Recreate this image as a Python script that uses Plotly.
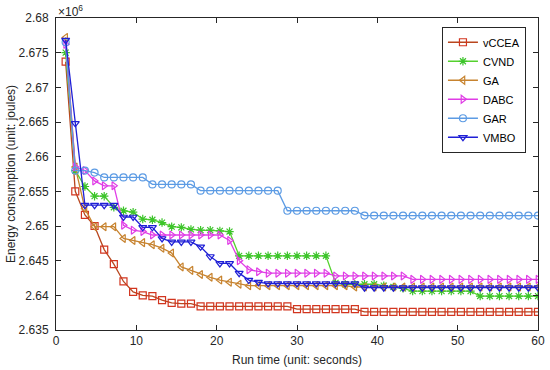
import plotly.graph_objects as go

run_time = [1.2, 2.4, 3.6, 4.8, 6.0, 7.2, 8.4, 9.6, 10.8, 12.0,
            13.2, 14.4, 15.6, 16.8, 18.0, 19.2, 20.4, 21.6, 22.8, 24.0,
            25.2, 26.4, 27.6, 28.8, 30.0, 31.2, 32.4, 33.6, 34.8, 36.0,
            37.2, 38.4, 39.6, 40.8, 42.0, 43.2, 44.4, 45.6, 46.8, 48.0,
            49.2, 50.4, 51.6, 52.8, 54.0, 55.2, 56.4, 57.6, 58.8, 60.0]

# energy in units of 10^6 joules
vccea = [2.6737, 2.6550, 2.6516, 2.6500, 2.6466, 2.6445, 2.6420, 2.6405, 2.6400, 2.6399,
         2.6393, 2.6389, 2.6388, 2.6388, 2.6384, 2.6384, 2.6384, 2.6384, 2.6384, 2.6384,
         2.6384, 2.6384, 2.6384, 2.6384, 2.6380, 2.6380, 2.6380, 2.6380, 2.6380, 2.6380,
         2.6380, 2.6376, 2.6376, 2.6376, 2.6376, 2.6376, 2.6376, 2.6376, 2.6376, 2.6376,
         2.6376, 2.6376, 2.6376, 2.6376, 2.6376, 2.6376, 2.6376, 2.6376, 2.6376, 2.6376]

cvnd = [2.6750, 2.6580, 2.6557, 2.6543, 2.6543, 2.6527, 2.6522, 2.6520, 2.6510, 2.6509,
        2.6505, 2.6499, 2.6498, 2.6495, 2.6494, 2.6494, 2.6493, 2.6492, 2.6457, 2.6457,
        2.6457, 2.6457, 2.6457, 2.6457, 2.6457, 2.6457, 2.6457, 2.6457, 2.6418, 2.6416,
        2.6416, 2.6416, 2.6416, 2.6414, 2.6412, 2.6410, 2.6406, 2.6406, 2.6406, 2.6406,
        2.6406, 2.6406, 2.6406, 2.6399, 2.6399, 2.6399, 2.6399, 2.6399, 2.6399, 2.6399]

ga = [2.6772, 2.6585, 2.6525, 2.6499, 2.6499, 2.6499, 2.6482, 2.6479, 2.6476, 2.6473,
      2.6468, 2.6461, 2.6441, 2.6436, 2.6430, 2.6426, 2.6422, 2.6419, 2.6416, 2.6414,
      2.6414, 2.6414, 2.6414, 2.6414, 2.6414, 2.6414, 2.6414, 2.6414, 2.6414, 2.6414,
      2.6412, 2.6412, 2.6412, 2.6412, 2.6412, 2.6412, 2.6412, 2.6412, 2.6412, 2.6412,
      2.6412, 2.6412, 2.6412, 2.6412, 2.6412, 2.6412, 2.6412, 2.6412, 2.6412, 2.6412]

dabc = [2.6762, 2.6585, 2.6580, 2.6565, 2.6558, 2.6558, 2.6501, 2.6494, 2.6492, 2.6487,
        2.6487, 2.6487, 2.6487, 2.6487, 2.6487, 2.6487, 2.6487, 2.6479, 2.6450, 2.6437,
        2.6434, 2.6432, 2.6432, 2.6432, 2.6432, 2.6432, 2.6432, 2.6432, 2.6428, 2.6428,
        2.6428, 2.6428, 2.6428, 2.6428, 2.6428, 2.6428, 2.6423, 2.6423, 2.6423, 2.6423,
        2.6423, 2.6423, 2.6423, 2.6423, 2.6423, 2.6423, 2.6423, 2.6423, 2.6423, 2.6423]

gar = [2.6765, 2.6580, 2.6580, 2.6577, 2.6570, 2.6570, 2.6570, 2.6570, 2.6570, 2.6560,
       2.6560, 2.6560, 2.6560, 2.6560, 2.6551, 2.6551, 2.6551, 2.6551, 2.6551, 2.6551,
       2.6551, 2.6551, 2.6551, 2.6522, 2.6522, 2.6522, 2.6522, 2.6522, 2.6522, 2.6522,
       2.6522, 2.6515, 2.6515, 2.6515, 2.6515, 2.6515, 2.6515, 2.6515, 2.6515, 2.6515,
       2.6515, 2.6515, 2.6515, 2.6515, 2.6515, 2.6515, 2.6515, 2.6515, 2.6515, 2.6515]

vmbo = [2.6768, 2.6648, 2.6530, 2.6530, 2.6530, 2.6530, 2.6513, 2.6513, 2.6498, 2.6498,
        2.6482, 2.6477, 2.6477, 2.6477, 2.6470, 2.6456, 2.6446, 2.6446, 2.6432, 2.6422,
        2.6419, 2.6417, 2.6417, 2.6417, 2.6417, 2.6417, 2.6417, 2.6417, 2.6417, 2.6417,
        2.6417, 2.6411, 2.6411, 2.6411, 2.6411, 2.6411, 2.6411, 2.6411, 2.6411, 2.6411,
        2.6411, 2.6411, 2.6411, 2.6411, 2.6411, 2.6411, 2.6411, 2.6411, 2.6411, 2.6411]

y_tickvals = [2.635, 2.64, 2.645, 2.65, 2.655, 2.66, 2.665, 2.67, 2.675, 2.68]
y_ticktext = ["2.635", "2.64", "2.645", "2.65", "2.655", "2.66", "2.665", "2.67", "2.675", "2.68"]
x_tickvals = [0, 10, 20, 30, 40, 50, 60]

series = [
    ("vCCEA", vccea, "#B9461E", "#D2351F", "square-open"),
    ("CVND", cvnd, "#55D12E", "#3CC42A", "asterisk-open"),
    ("GA", ga, "#C7832F", "#C7832F", "triangle-left-open"),
    ("DABC", dabc, "#E03CE6", "#E03CE6", "triangle-right-open"),
    ("GAR", gar, "#5C9BE4", "#5C9BE4", "circle-open"),
    ("VMBO", vmbo, "#1F1FD6", "#1F1FD6", "triangle-down-open"),
]

fig = go.Figure()
for name, vals, lc, mc, sym in series:
    fig.add_trace(go.Scatter(
        x=run_time, y=vals, name=name, mode="lines+markers",
        line=dict(color=lc, width=1.3),
        marker=dict(symbol=sym, size=7, color=mc, line=dict(color=mc, width=1.2)),
    ))

FONT = "Liberation Sans, Arial, sans-serif"
tick_font = dict(family=FONT, size=12, color="#262626")
title_font = dict(family=FONT, size=12, color="#262626")

fig.update_layout(
    width=550, height=370,
    margin=dict(l=56, r=12, t=18, b=40, autoexpand=False),
    paper_bgcolor="white", plot_bgcolor="white",
    font=dict(family=FONT, size=12, color="#262626"),
    showlegend=True,
    legend=dict(
        x=0.975, y=0.972, xanchor="right", yanchor="top",
        bgcolor="white", bordercolor="#262626", borderwidth=1,
        font=dict(family=FONT, size=11, color="#000000"),
        tracegroupgap=0, itemwidth=30,
    ),
    xaxis=dict(
        range=[0, 60], tickvals=x_tickvals, ticks="inside", ticklen=5,
        showline=True, linecolor="#262626", linewidth=1, mirror="ticks",
        showgrid=False, zeroline=False, tickcolor="#262626",
        tickfont=tick_font, automargin=False,
        title=dict(text="Run time (unit: seconds)", font=title_font, standoff=8),
    ),
    yaxis=dict(
        range=[2.635, 2.68], tickvals=y_tickvals, ticktext=y_ticktext,
        ticks="inside", ticklen=5,
        showline=True, linecolor="#262626", linewidth=1, mirror="ticks",
        showgrid=False, zeroline=False, tickcolor="#262626",
        tickfont=tick_font, automargin=False, ticklabelstandoff=4,
        title=dict(text="Energy consumption (unit: joules)", font=title_font, standoff=0),
    ),
    annotations=[dict(
        text="×10<sup>6</sup>", xref="paper", yref="paper", x=0.0, y=1.0,
        xanchor="left", yanchor="bottom", showarrow=False,
        font=dict(family=FONT, size=12, color="#262626"),
        yshift=-3,
    )],
)

# remove the page's default 8px body margin so the figure fills the window
fig.write_html("out.html", config={"displayModeBar": False},
               post_script="document.body.style.margin='0px';")
